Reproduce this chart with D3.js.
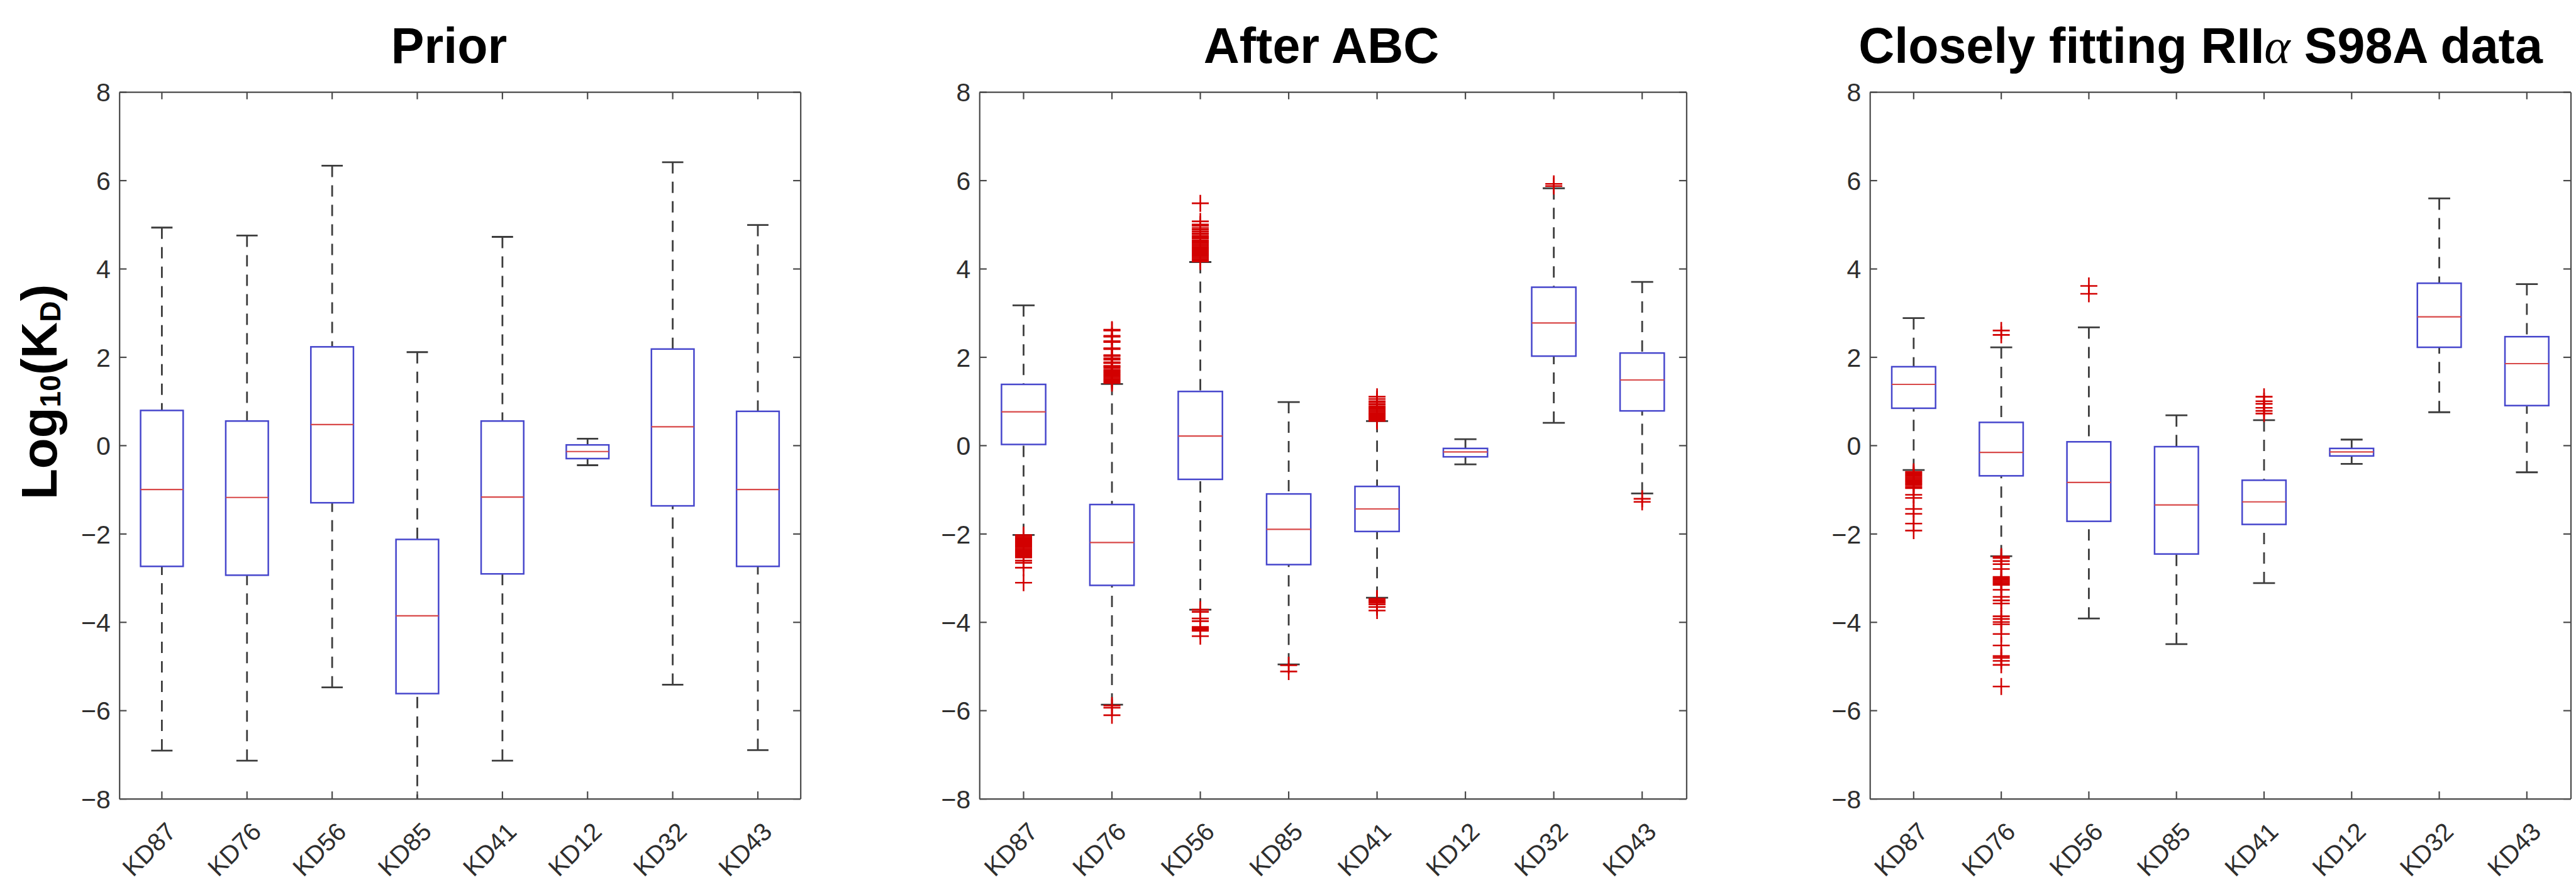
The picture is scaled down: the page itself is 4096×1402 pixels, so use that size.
<!DOCTYPE html>
<html>
<head>
<meta charset="utf-8">
<script src="https://cdn.jsdelivr.net/npm/d3@7"></script>
<style>
  html, body { margin: 0; padding: 0; background: #ffffff; }
  svg { display: block; }
</style>
</head>
<body>
<svg id="chart" width="4096" height="1402"></svg>
<script>
// ---- categories, ticks and titles ----
const categories = ["KD87", "KD76", "KD56", "KD85", "KD41", "KD12", "KD32", "KD43"];
const yTickValues = [-8, -6, -4, -2, 0, 2, 4, 6, 8];
const panelTitles = ["Prior", "After ABC", "Closely fitting RII\u03b1 S98A data"];

// ---- Prior: log10(KD) box statistics per category ----
const priorWhiskerLow  = [-6.91, -7.14, -5.48, -8.60, -7.14, -0.45, -5.42, -6.90];
const priorQ1          = [-2.74, -2.94, -1.30, -5.62, -2.91, -0.30, -1.37, -2.74];
const priorMedian      = [-1.00, -1.18,  0.47, -3.86, -1.17, -0.14,  0.42, -1.00];
const priorQ3          = [ 0.79,  0.55,  2.23, -2.13,  0.55,  0.01,  2.18,  0.77];
const priorWhiskerHigh = [ 4.93,  4.75,  6.33,  2.11,  4.72,  0.15,  6.41,  4.99];
const priorOutliers    = [[], [], [], [], [], [], [], []];

// ---- After ABC ----
const abcWhiskerLow  = [-2.03, -5.87, -3.72, -4.96, -3.45, -0.43, 0.51, -1.09];
const abcQ1          = [ 0.02, -3.17, -0.77, -2.70, -1.95, -0.26, 2.02,  0.78];
const abcMedian      = [ 0.76, -2.20,  0.21, -1.90, -1.44, -0.15, 2.77,  1.48];
const abcQ3          = [ 1.38, -1.34,  1.22, -1.10, -0.93, -0.07, 3.58,  2.09];
const abcWhiskerHigh = [ 3.17,  1.39,  4.15,  0.98,  0.55,  0.14, 5.82,  3.70];
const abcOutliers = [
  [-2.03, -2.06, -2.09, -2.12, -2.15, -2.18, -2.21, -2.24, -2.27, -2.30, -2.33, -2.36,
   -2.39, -2.42, -2.45, -2.48, -2.51, -2.54, -2.61, -2.66, -2.77, -3.11],
  [1.41, 1.44, 1.47, 1.50, 1.53, 1.56, 1.59, 1.62, 1.65, 1.68, 1.71, 1.75, 1.78, 1.80,
   1.86, 1.88, 1.94, 1.97, 2.02, 2.04, 2.18, 2.20, 2.34, 2.36, 2.46, 2.48, 2.60, 2.62,
   -5.89, -5.94, -6.11],
  [4.16, 4.19, 4.22, 4.25, 4.28, 4.31, 4.34, 4.37, 4.40, 4.43, 4.46, 4.49, 4.52, 4.55,
   4.58, 4.61, 4.64, 4.68, 4.70, 4.72, 4.74, 4.78, 4.80, 4.84, 4.88, 4.92, 4.97, 5.00,
   5.07, 5.48,
   -3.72, -3.77, -3.92, -3.98, -4.11, -4.13, -4.15, -4.17, -4.20, -4.32],
  [-4.98, -5.12],
  [0.55, 0.58, 0.61, 0.64, 0.67, 0.70, 0.73, 0.76, 0.79, 0.82, 0.85, 0.88, 0.92, 0.96,
   1.00, 1.05, 1.10, -3.47, -3.50, -3.53, -3.56, -3.60, -3.66, -3.74],
  [],
  [5.87, 5.92],
  [-1.21, -1.28]
];

// ---- Closely fitting RIIalpha S98A data ----
const fitWhiskerLow  = [-0.56, -2.51, -3.92, -4.50, -3.12, -0.42, 0.75, -0.61];
const fitQ1          = [ 0.84, -0.69, -1.72, -2.46, -1.79, -0.24, 2.22,  0.90];
const fitMedian      = [ 1.38, -0.16, -0.84, -1.35, -1.28, -0.15, 2.91,  1.85];
const fitQ3          = [ 1.78,  0.52,  0.08, -0.03, -0.79, -0.07, 3.67,  2.46];
const fitWhiskerHigh = [ 2.88,  2.22,  2.67,  0.68,  0.57,  0.13, 5.59,  3.65];
const fitOutliers = [
  [-0.60, -0.63, -0.66, -0.69, -0.72, -0.75, -0.78, -0.81, -0.84, -0.87, -0.90, -0.94,
   -0.97, -1.12, -1.19, -1.44, -1.55, -1.77, -1.93],
  [2.50, 2.60, -2.52, -2.55, -2.62, -2.69, -2.80, -2.98, -3.01, -3.04, -3.07, -3.10,
   -3.13, -3.16, -3.27, -3.43, -3.51, -3.58, -3.87, -3.93, -4.00, -4.05, -4.27, -4.53,
   -4.77, -4.81, -4.88, -4.97, -5.46],
  [3.43, 3.61],
  [],
  [0.72, 0.78, 0.85, 0.94, 1.00, 1.10],
  [],
  [],
  []
];

// ---- layout (window pixels) ----
const axTop = 146.2, axBottom = 1269.6;
const frames = [
  { left: 189.7,  right: 1272.7, titleX: 714 },
  { left: 1557.3, right: 2681.4, titleX: 2101 },
  { left: 2973.2, right: 4087.5, titleX: 3499 }
];
const panelStats = [
  [priorWhiskerLow, priorQ1, priorMedian, priorQ3, priorWhiskerHigh, priorOutliers],
  [abcWhiskerLow, abcQ1, abcMedian, abcQ3, abcWhiskerHigh, abcOutliers],
  [fitWhiskerLow, fitQ1, fitMedian, fitQ3, fitWhiskerHigh, fitOutliers]
];

const FONT = "'Liberation Sans', Arial, Helvetica, sans-serif";
const AXIS_COLOR = "#4a4a4a";
const TICK_TEXT = "#2e2e2e";
const BOX_COLOR = "#4646cc";
const MEDIAN_COLOR = "#d84848";
const WHISKER_COLOR = "#3c3c3c";
const OUTLIER_COLOR = "#d20000";
const TICK_LEN = 11.6;
const PLUS_HALF = 13.5;

const svg = d3.select("#chart");
svg.append("rect").attr("width", 4096).attr("height", 1402).attr("fill", "#ffffff");

const y = d3.scaleLinear().domain([-8, 8]).range([axBottom, axTop]);

frames.forEach((fr, pi) => {
  const [wLow, q1, med, q3, wHigh, outl] = panelStats[pi];
  const x = d3.scaleBand().domain(categories).range([fr.left, fr.right]).padding(0);
  const bw = x.bandwidth();
  const cx = c => x(c) + bw / 2;
  const g = svg.append("g");

  const clipId = "clip" + pi;
  svg.append("clipPath").attr("id", clipId)
    .append("rect").attr("x", fr.left).attr("y", axTop)
    .attr("width", fr.right - fr.left).attr("height", axBottom - axTop);

  const plot = g.append("g").attr("clip-path", `url(#${clipId})`);

  categories.forEach((c, i) => {
    const xc = cx(c);
    const boxHalf = bw * 0.25;
    const capHalf = bw * 0.125;
    const cg = plot.append("g");

    // whiskers (dashed)
    cg.append("line")
      .attr("x1", xc).attr("x2", xc).attr("y1", y(wHigh[i])).attr("y2", y(q3[i]))
      .attr("stroke", WHISKER_COLOR).attr("stroke-width", 2.8)
      .attr("stroke-dasharray", "18 13");
    cg.append("line")
      .attr("x1", xc).attr("x2", xc).attr("y1", y(wLow[i])).attr("y2", y(q1[i]))
      .attr("stroke", WHISKER_COLOR).attr("stroke-width", 2.8)
      .attr("stroke-dasharray", "18 13");
    // whisker caps
    [wHigh[i], wLow[i]].forEach(v => {
      cg.append("line")
        .attr("x1", xc - capHalf).attr("x2", xc + capHalf)
        .attr("y1", y(v)).attr("y2", y(v))
        .attr("stroke", WHISKER_COLOR).attr("stroke-width", 2.8);
    });
    // box
    cg.append("rect")
      .attr("x", xc - boxHalf).attr("width", boxHalf * 2)
      .attr("y", y(q3[i])).attr("height", y(q1[i]) - y(q3[i]))
      .attr("fill", "none").attr("stroke", BOX_COLOR).attr("stroke-width", 2.5);
    // median
    cg.append("line")
      .attr("x1", xc - boxHalf).attr("x2", xc + boxHalf)
      .attr("y1", y(med[i])).attr("y2", y(med[i]))
      .attr("stroke", MEDIAN_COLOR).attr("stroke-width", 2.2);
    // outliers as '+' markers
    cg.selectAll("path.outlier").data(outl[i]).join("path")
      .attr("class", "outlier")
      .attr("d", v => `M${xc - PLUS_HALF},${y(v)}H${xc + PLUS_HALF}M${xc},${y(v) - PLUS_HALF}V${y(v) + PLUS_HALF}`)
      .attr("stroke", OUTLIER_COLOR).attr("stroke-width", 2.6).attr("fill", "none");
  });

  // axes: ticks point inward on all four sides
  const styleAxis = sel => {
    sel.select(".domain").attr("stroke", AXIS_COLOR).attr("stroke-width", 2.2);
    sel.selectAll(".tick line").attr("stroke", AXIS_COLOR).attr("stroke-width", 2.2);
  };

  const left = g.append("g").attr("transform", `translate(${fr.left},0)`)
    .call(d3.axisLeft(y).tickValues(yTickValues).tickSize(-TICK_LEN).tickSizeOuter(0)
      .tickPadding(14).tickFormat(d3.format("d")));
  styleAxis(left);
  left.selectAll(".tick text").attr("font-family", FONT).attr("font-size", 41)
    .attr("fill", TICK_TEXT).attr("dy", "0.36em");

  const right = g.append("g").attr("transform", `translate(${fr.right},0)`)
    .call(d3.axisRight(y).tickValues(yTickValues).tickSize(-TICK_LEN).tickSizeOuter(0).tickFormat(""));
  styleAxis(right);

  const bottom = g.append("g").attr("transform", `translate(0,${axBottom})`)
    .call(d3.axisBottom(x).tickSize(-TICK_LEN).tickSizeOuter(0));
  styleAxis(bottom);
  bottom.selectAll(".tick text")
    .attr("font-family", FONT).attr("font-size", 40).attr("fill", TICK_TEXT)
    .attr("x", 0).attr("y", 0).attr("dy", "0.35em")
    .attr("text-anchor", "end")
    .attr("transform", "translate(15,45) rotate(-45)");

  const top = g.append("g").attr("transform", `translate(0,${axTop})`)
    .call(d3.axisTop(x).tickSize(-TICK_LEN).tickSizeOuter(0).tickFormat(""));
  styleAxis(top);

  // panel title
  const parts = panelTitles[pi].split("\u03b1");
  const t = g.append("text")
    .attr("x", fr.titleX).attr("y", 100)
    .attr("text-anchor", "middle")
    .attr("font-family", FONT).attr("font-weight", "bold").attr("font-size", 79)
    .attr("fill", "#000000");
  t.append("tspan").text(parts[0]);
  if (parts.length > 1) {
    t.append("tspan").text("\u03b1")
      .attr("font-family", "'Liberation Serif', 'Times New Roman', serif")
      .attr("font-style", "italic").attr("font-weight", "normal");
    t.append("tspan").text(parts[1]);
  }
});

// shared y-axis label: Log10(KD)
const yl = svg.append("text")
  .attr("transform", "translate(89.5,623) rotate(-90)")
  .attr("text-anchor", "middle")
  .attr("font-family", FONT).attr("font-weight", "bold").attr("font-size", 80)
  .attr("fill", "#000000");
yl.append("tspan").text("Log");
yl.append("tspan").text("10").attr("font-size", 46).attr("dy", 6);
yl.append("tspan").text("(K").attr("dy", -6);
yl.append("tspan").text("D").attr("font-size", 46).attr("dy", 6);
yl.append("tspan").text(")").attr("dy", -6);
</script>
</body>
</html>
